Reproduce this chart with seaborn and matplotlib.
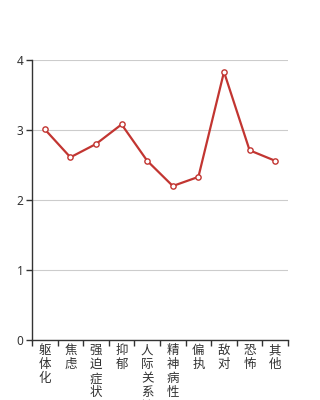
import matplotlib
matplotlib.use("Agg")
import matplotlib.pyplot as plt
import seaborn as sns
import pandas as pd
import numpy as np

categories = ["躯体化", "焦虑", "强迫症状", "抑郁", "人际关系敏感", "精神病性", "偏执", "敌对", "恐怖", "其他"]
values = [3.01, 2.61, 2.80, 3.08, 2.56, 2.20, 2.33, 3.83, 2.71, 2.56]
yticks = [0, 1, 2, 3, 4]

sns.set_theme(style="white")
plt.rcParams['font.family'] = ['Noto Sans CJK SC', 'DejaVu Sans']

df = pd.DataFrame({"cat": categories, "val": values})

fig = plt.figure(figsize=(3.2, 4.0), dpi=100)
ax = fig.add_axes([0.1, 0.15, 0.8, 0.7])

sns.lineplot(data=df, x="cat", y="val", ax=ax, color="#c23531", linewidth=1.6,
             marker="o", markersize=3.8, markerfacecolor="white",
             markeredgecolor="#c23531", markeredgewidth=1.0, sort=False)

ax.set_xlim(-0.5, len(categories) - 0.5)
ax.set_ylim(0, 4)
ax.set_yticks(yticks)
ax.set_yticklabels([str(t) for t in yticks], fontsize=8.5, color="#333333",
                   family=['Noto Sans', 'DejaVu Sans'])
ax.yaxis.grid(True, color="#cccccc", linewidth=0.8)
ax.xaxis.grid(False)
ax.set_axisbelow(True)

ax.set_xticks(range(len(categories)))
ax.set_xticklabels(["\n".join(c) for c in categories], fontsize=9, color="#333333",
                   linespacing=1.1, va="top")
ax.set_xticks(np.arange(-0.5, len(categories), 1.0), minor=True)
ax.tick_params(axis="x", which="major", length=0, pad=3)
ax.tick_params(axis="x", which="minor", length=4, width=1, color="#333333", direction="out", bottom=True)
ax.tick_params(axis="y", which="major", length=4, width=1, color="#333333", direction="out", left=True, pad=2)

for s in ["top", "right"]:
    ax.spines[s].set_visible(False)
for s in ["left", "bottom"]:
    ax.spines[s].set_color("#333333")
    ax.spines[s].set_linewidth(1)

ax.set_xlabel("")
ax.set_ylabel("")

fig.savefig("out.png", dpi=100)
